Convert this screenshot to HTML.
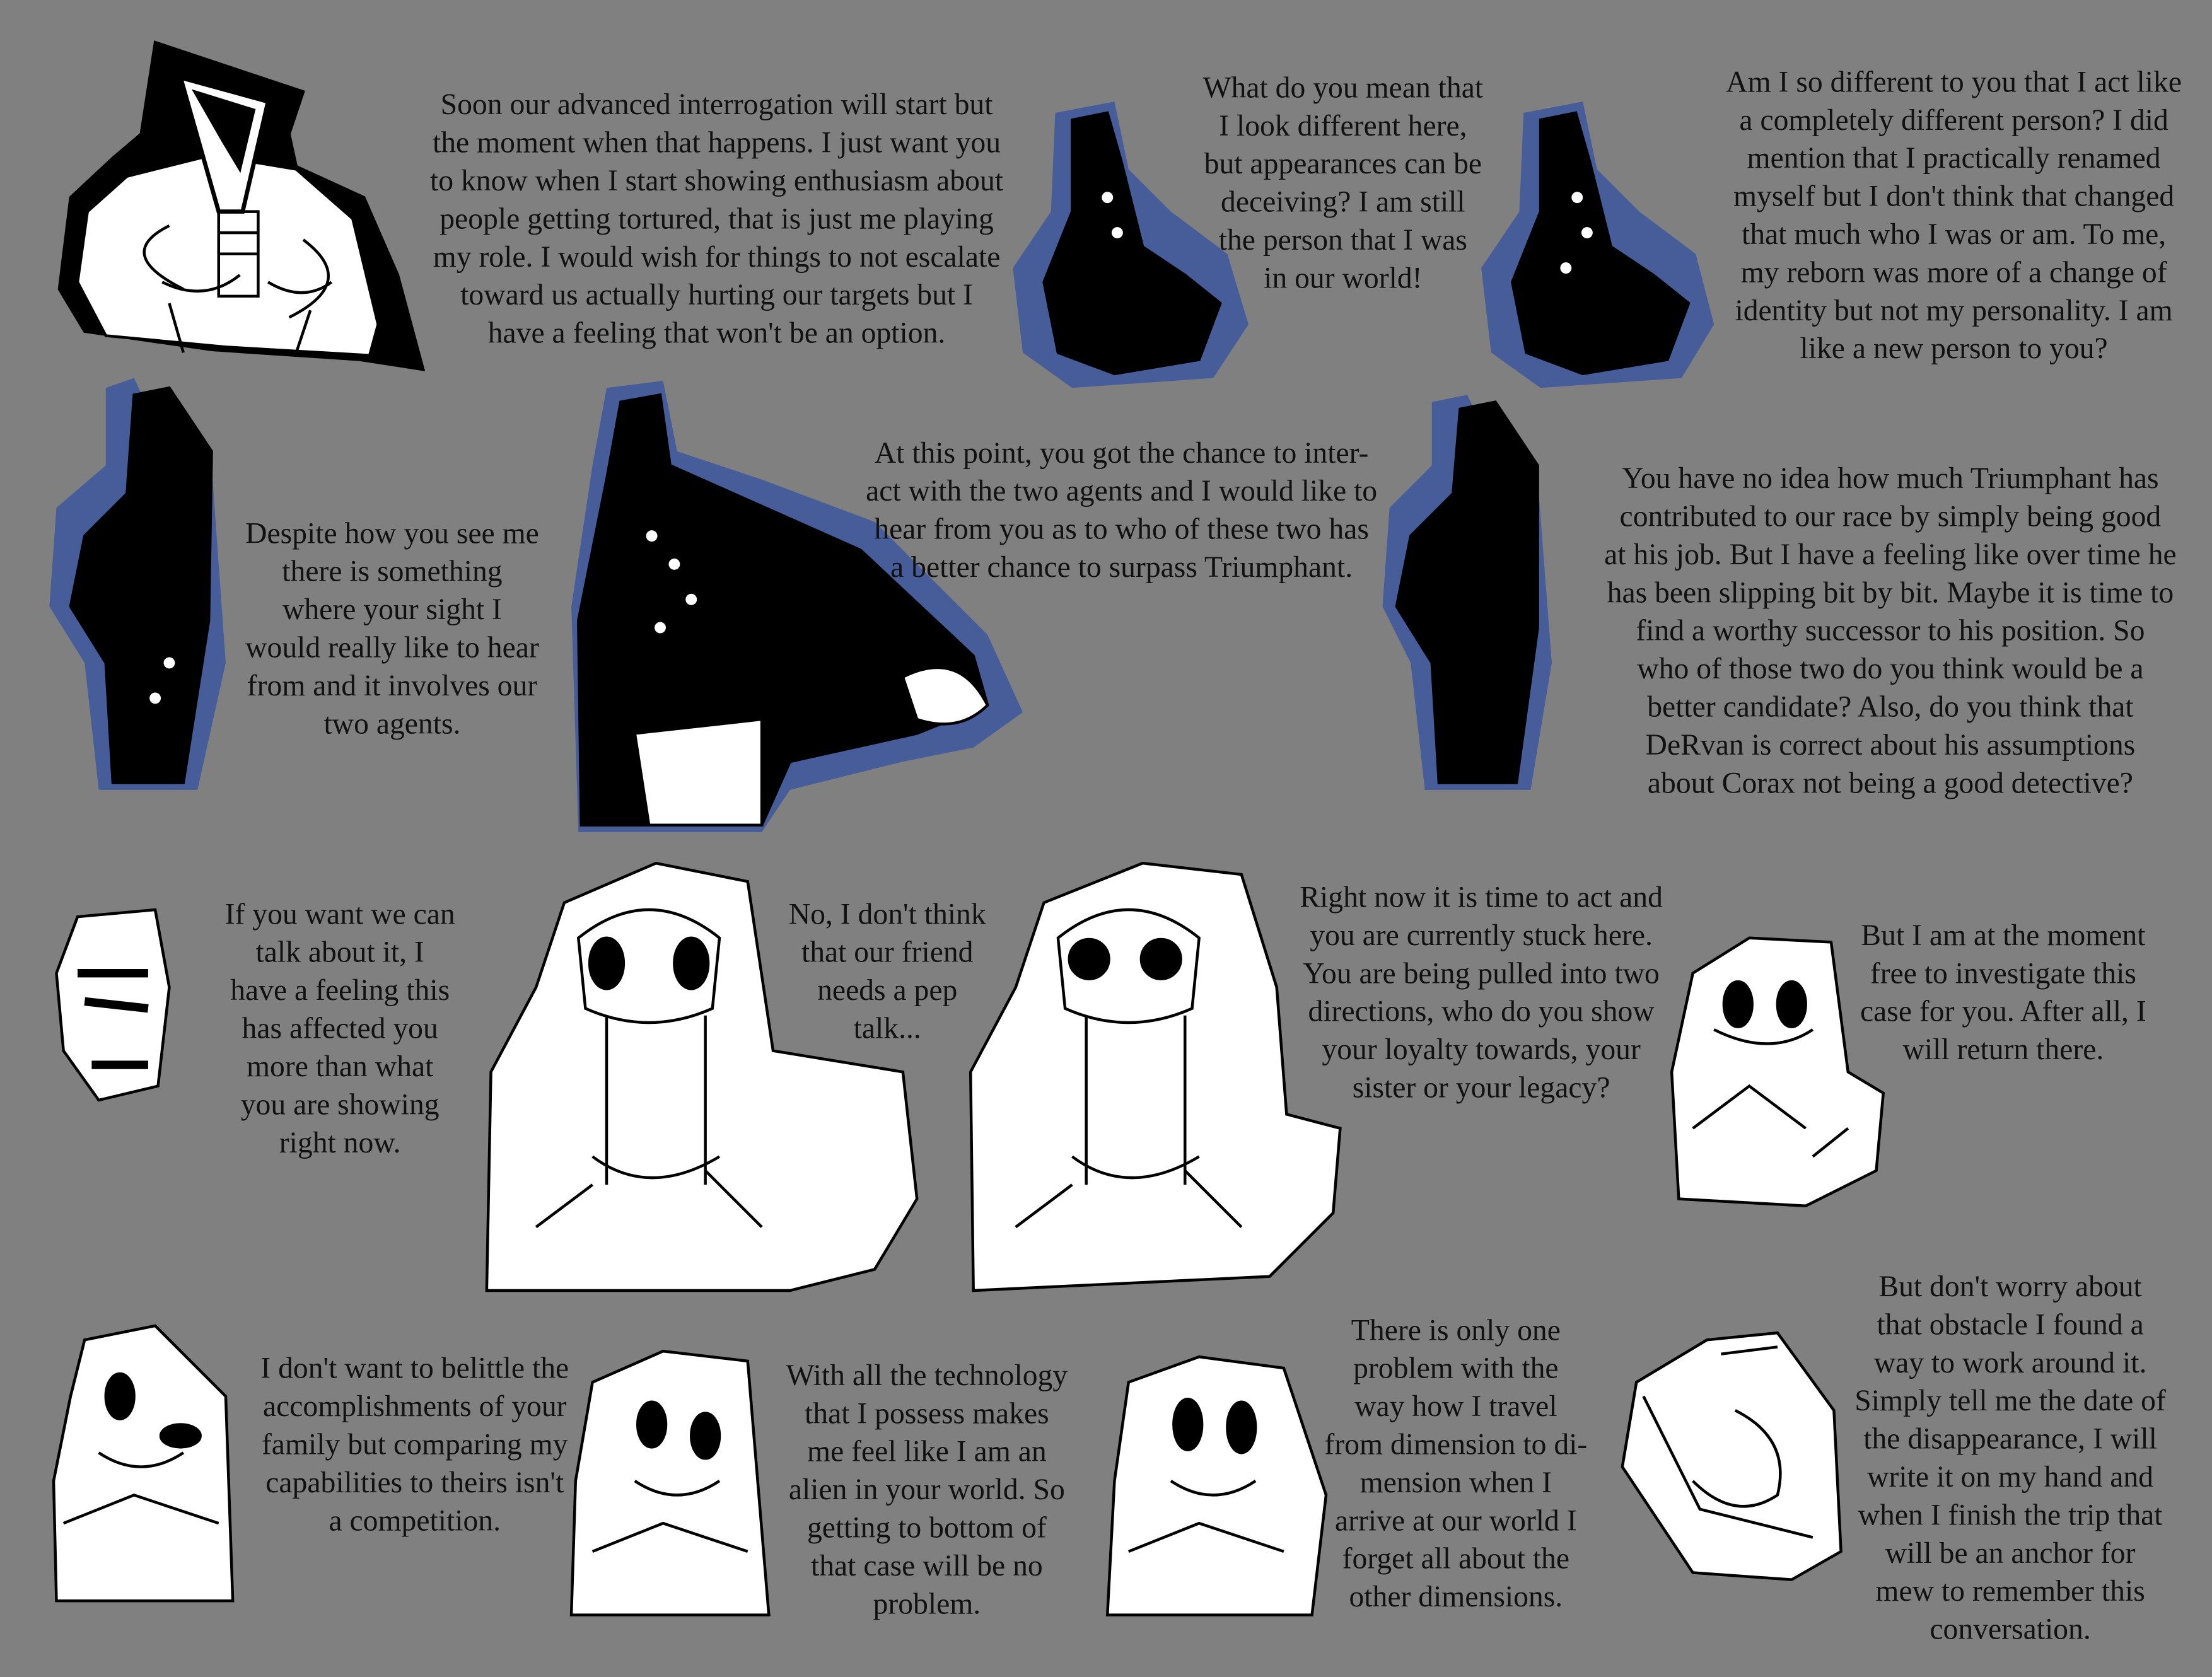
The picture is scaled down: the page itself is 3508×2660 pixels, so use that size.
<!DOCTYPE html>
<html><head><meta charset="utf-8"><style>
html,body{margin:0;padding:0;background:#808080;}
svg{display:block;}
text{font-family:"Liberation Serif",serif;font-size:21.3px;fill:#111;text-anchor:middle;}
</style></head><body>
<svg width="3508" height="2660" viewBox="0 0 1568 1189" preserveAspectRatio="none" xmlns="http://www.w3.org/2000/svg">
<rect width="1568" height="1189" fill="#808080"/>
<g stroke="#000" stroke-width="2" fill="none">
<polygon points="110,30 215,65 205,95 210,118 258,140 282,195 300,262 255,255 150,248 60,235 42,205 50,140 80,112 100,95" fill="#000"/>
<polygon points="90,125 150,110 210,120 250,155 268,230 262,252 160,246 75,238 55,200 62,150" fill="#fff"/>
<polygon points="128,55 190,72 172,150 155,150" fill="#fff" stroke-width="3"/>
<polygon points="138,65 180,78 170,120 158,100" fill="#000"/>
<path d="M155,150 h28 v60 h-28z M155,165 h28 M155,180 h28 M120,160 q-40,20 10,45 M215,170 q40,30 -10,55 M115,200 q30,15 55,-5 M190,200 q25,15 45,0 M120,215 l10,35 M220,220 l-10,30"/>
<polygon points="748,80 790,72 800,120 830,150 870,180 885,230 860,268 760,275 725,250 718,190 745,150" fill="#465d9a" stroke="none"/>
<polygon points="760,85 785,80 795,115 810,175 840,195 865,215 850,255 790,265 750,250 740,200 760,150" fill="#000"/>
<polygon points="1080,80 1122,72 1132,120 1162,150 1202,180 1215,230 1192,268 1092,275 1057,250 1050,190 1077,150" fill="#465d9a" stroke="none"/>
<polygon points="1092,85 1117,80 1127,115 1142,175 1172,195 1197,215 1182,255 1122,265 1082,250 1072,200 1092,150" fill="#000"/>
<g fill="#fff" stroke="none"><circle cx="785" cy="140" r="4"/><circle cx="792" cy="165" r="4"/><circle cx="1118" cy="140" r="4"/><circle cx="1125" cy="165" r="4"/><circle cx="1110" cy="190" r="4"/></g>
<polygon points="75,275 95,268 110,300 150,330 160,470 140,560 70,560 60,470 35,430 40,360 75,330" fill="#465d9a" stroke="none"/>
<polygon points="95,280 120,275 150,320 148,440 130,555 80,555 75,470 50,430 60,380 90,350" fill="#000"/>
<polygon points="430,275 470,270 480,320 540,340 620,370 700,450 725,505 690,530 640,540 560,560 540,590 410,590 405,430 420,330" fill="#465d9a" stroke="none"/>
<polygon points="440,285 468,280 475,330 520,350 610,390 690,465 700,500 650,520 560,540 540,585 412,585 410,440 430,340" fill="#000"/>
<polygon points="450,520 540,510 540,585 460,585" fill="#fff"/>
<path d="M640,480 q40,-20 60,20 q-20,20 -50,10z" fill="#fff"/>
<g fill="#fff" stroke="none"><circle cx="462" cy="380" r="4"/><circle cx="478" cy="400" r="4"/><circle cx="490" cy="425" r="4"/><circle cx="468" cy="445" r="4"/><circle cx="120" cy="470" r="4"/><circle cx="110" cy="495" r="4"/><circle cx="1050" cy="470" r="4"/><circle cx="1040" cy="500" r="4"/></g>
<polygon points="1015,285 1040,280 1055,310 1090,340 1100,470 1085,560 1010,560 1000,470 980,430 985,360 1015,330" fill="#465d9a" stroke="none"/>
<polygon points="1035,290 1060,285 1090,330 1090,445 1075,555 1020,555 1015,470 990,430 1000,380 1030,350" fill="#000"/>
<polygon points="55,650 110,645 120,700 112,770 70,780 45,745 40,690" fill="#fff"/>
<path d="M55,690 l50,0 M60,710 l45,5 M65,755 h40" stroke-width="6"/>
<polygon points="400,640 465,612 530,625 548,745 640,760 650,850 620,900 560,915 345,915 348,760 380,700" fill="#fff"/>
<path d="M410,665 q50,-40 100,0 l-5,50 q-45,20 -90,0z M430,720 v120 M500,720 v120 M420,820 q40,30 90,0 M380,870 l40,-30 M500,830 l40,40" />
<ellipse cx="430" cy="683" rx="12" ry="18" fill="#000"/><ellipse cx="490" cy="683" rx="12" ry="18" fill="#000"/>
<polygon points="740,640 810,612 880,620 905,700 912,790 950,800 945,860 900,905 690,915 688,760 720,700" fill="#fff"/>
<path d="M750,665 q50,-40 100,0 l-5,50 q-45,20 -90,0z M770,720 v120 M840,720 v120 M760,820 q40,30 90,0 M720,870 l40,-30 M840,830 l40,40"/>
<ellipse cx="772" cy="680" rx="14" ry="14" fill="#000"/><ellipse cx="823" cy="680" rx="14" ry="14" fill="#000"/>
<polygon points="1200,690 1240,665 1298,668 1310,760 1335,775 1330,830 1280,855 1190,850 1185,760" fill="#fff"/>
<ellipse cx="1232" cy="712" rx="10" ry="16" fill="#000"/><ellipse cx="1270" cy="712" rx="10" ry="16" fill="#000"/>
<path d="M1215,730 q40,20 70,0 M1200,800 l40,-30 l40,30 M1285,820 l25,-20"/>
<polygon points="60,950 110,940 160,990 165,1135 40,1135 38,1050 50,990" fill="#fff"/>
<ellipse cx="85" cy="990" rx="10" ry="16" fill="#000"/><ellipse cx="128" cy="1018" rx="14" ry="8" fill="#000"/>
<path d="M70,1030 q30,20 60,0 M45,1080 l50,-20 l60,20"/>
<polygon points="420,980 470,958 530,965 545,1145 405,1145 408,1050" fill="#fff"/>
<ellipse cx="462" cy="1010" rx="10" ry="16" fill="#000"/><ellipse cx="500" cy="1018" rx="10" ry="16" fill="#000"/>
<path d="M450,1050 q30,20 60,0 M420,1100 l50,-20 l60,20"/>
<polygon points="800,980 850,962 910,970 940,1060 930,1145 785,1145 790,1050" fill="#fff"/>
<ellipse cx="842" cy="1010" rx="10" ry="18" fill="#000"/><ellipse cx="880" cy="1012" rx="10" ry="18" fill="#000"/>
<path d="M830,1050 q30,20 60,0 M800,1100 l50,-20 l60,20"/>
<polygon points="1210,950 1260,945 1300,1000 1305,1100 1270,1120 1200,1115 1150,1040 1160,980" fill="#fff"/>
<path d="M1220,960 l40,-5 M1230,1000 q40,20 30,60 q-30,20 -60,-10 M1165,990 l40,80 l80,20"/>
</g>
<g>
<text x="508" y="81">Soon our advanced interrogation will start but</text>
<text x="508" y="108">the moment when that happens. I just want you</text>
<text x="508" y="135">to know when I start showing enthusiasm about</text>
<text x="508" y="162">people getting tortured, that is just me playing</text>
<text x="508" y="189">my role. I would wish for things to not escalate</text>
<text x="508" y="216">toward us actually hurting our targets but I</text>
<text x="508" y="243">have a feeling that won't be an option.</text>
<text x="952" y="69">What do you mean that</text>
<text x="952" y="96">I look different here,</text>
<text x="952" y="123">but appearances can be</text>
<text x="952" y="150">deceiving? I am still</text>
<text x="952" y="177">the person that I was</text>
<text x="952" y="204">in our world!</text>
<text x="1385" y="65">Am I so different to you that I act like</text>
<text x="1385" y="92">a completely different person? I did</text>
<text x="1385" y="119">mention that I practically renamed</text>
<text x="1385" y="146">myself but I don't think that changed</text>
<text x="1385" y="173">that much who I was or am. To me,</text>
<text x="1385" y="200">my reborn was more of a change of</text>
<text x="1385" y="227">identity but not my personality. I am</text>
<text x="1385" y="254">like a new person to you?</text>
<text x="278" y="385">Despite how you see me</text>
<text x="278" y="412">there is something</text>
<text x="278" y="439">where your sight I</text>
<text x="278" y="466">would really like to hear</text>
<text x="278" y="493">from and it involves our</text>
<text x="278" y="520">two agents.</text>
<text x="795" y="328">At this point, you got the chance to inter-</text>
<text x="795" y="355">act with the two agents and I would like to</text>
<text x="795" y="382">hear from you as to who of these two has</text>
<text x="795" y="409">a better chance to surpass Triumphant.</text>
<text x="1340" y="346">You have no idea how much Triumphant has</text>
<text x="1340" y="373">contributed to our race by simply being good</text>
<text x="1340" y="400">at his job. But I have a feeling like over time he</text>
<text x="1340" y="427">has been slipping bit by bit. Maybe it is time to</text>
<text x="1340" y="454">find a worthy successor to his position. So</text>
<text x="1340" y="481">who of those two do you think would be a</text>
<text x="1340" y="508">better candidate? Also, do you think that</text>
<text x="1340" y="535">DeRvan is correct about his assumptions</text>
<text x="1340" y="562">about Corax not being a good detective?</text>
<text x="241" y="655">If you want we can</text>
<text x="241" y="682">talk about it, I</text>
<text x="241" y="709">have a feeling this</text>
<text x="241" y="736">has affected you</text>
<text x="241" y="763">more than what</text>
<text x="241" y="790">you are showing</text>
<text x="241" y="817">right now.</text>
<text x="629" y="655">No, I don't think</text>
<text x="629" y="682">that our friend</text>
<text x="629" y="709">needs a pep</text>
<text x="629" y="736">talk...</text>
<text x="1050" y="643">Right now it is time to act and</text>
<text x="1050" y="670">you are currently stuck here.</text>
<text x="1050" y="697">You are being pulled into two</text>
<text x="1050" y="724">directions, who do you show</text>
<text x="1050" y="751">your loyalty towards, your</text>
<text x="1050" y="778">sister or your legacy?</text>
<text x="1420" y="670">But I am at the moment</text>
<text x="1420" y="697">free to investigate this</text>
<text x="1420" y="724">case for you. After all, I</text>
<text x="1420" y="751">will return there.</text>
<text x="294" y="977">I don't want to belittle the</text>
<text x="294" y="1004">accomplishments of your</text>
<text x="294" y="1031">family but comparing my</text>
<text x="294" y="1058">capabilities to theirs isn't</text>
<text x="294" y="1085">a competition.</text>
<text x="657" y="982">With all the technology</text>
<text x="657" y="1009">that I possess makes</text>
<text x="657" y="1036">me feel like I am an</text>
<text x="657" y="1063">alien in your world. So</text>
<text x="657" y="1090">getting to bottom of</text>
<text x="657" y="1117">that case will be no</text>
<text x="657" y="1144">problem.</text>
<text x="1032" y="950">There is only one</text>
<text x="1032" y="977">problem with the</text>
<text x="1032" y="1004">way how I travel</text>
<text x="1032" y="1031">from dimension to di-</text>
<text x="1032" y="1058">mension when I</text>
<text x="1032" y="1085">arrive at our world I</text>
<text x="1032" y="1112">forget all about the</text>
<text x="1032" y="1139">other dimensions.</text>
<text x="1425" y="919">But don't worry about</text>
<text x="1425" y="946">that obstacle I found a</text>
<text x="1425" y="973">way to work around it.</text>
<text x="1425" y="1000">Simply tell me the date of</text>
<text x="1425" y="1027">the disappearance, I will</text>
<text x="1425" y="1054">write it on my hand and</text>
<text x="1425" y="1081">when I finish the trip that</text>
<text x="1425" y="1108">will be an anchor for</text>
<text x="1425" y="1135">mew to remember this</text>
<text x="1425" y="1162">conversation.</text>
</g>
</svg>
</body></html>
